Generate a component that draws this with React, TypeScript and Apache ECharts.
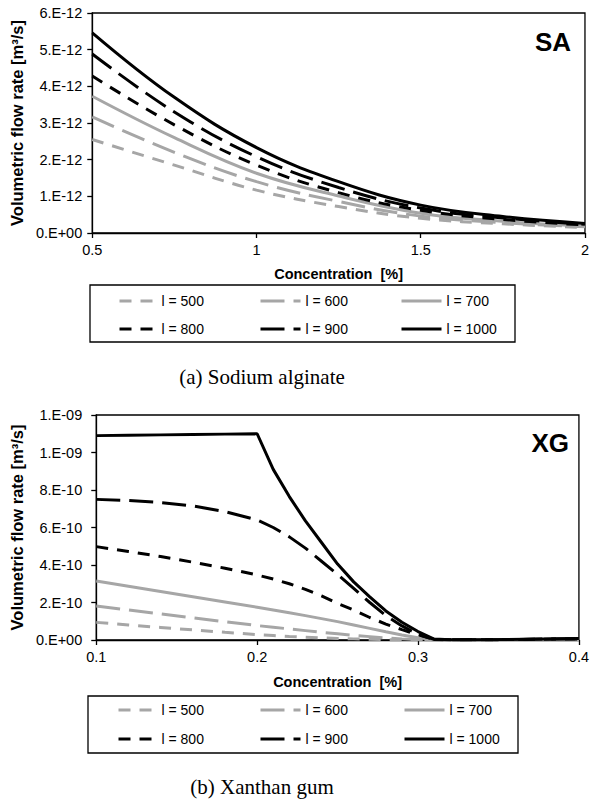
import React, { useEffect, useRef } from "react";
import * as echarts from "echarts";

// Sodium alginate: concentration [%] and flow rate in units of 1E-12 m³/s
const saConcentration = [0.5, 0.75, 1.0, 1.25, 1.5, 1.75, 2.0];
const saL500 = [2.55, 1.85, 1.17, 0.72, 0.4, 0.25, 0.15];
const saL600 = [3.17, 2.2, 1.4, 0.86, 0.46, 0.28, 0.17];
const saL700 = [3.73, 2.6, 1.63, 1.01, 0.54, 0.32, 0.19];
const saL800 = [4.28, 2.95, 1.85, 1.1, 0.62, 0.37, 0.22];
const saL900 = [4.88, 3.3, 2.08, 1.24, 0.68, 0.41, 0.24];
const saL1000 = [5.46, 3.7, 2.33, 1.4, 0.76, 0.45, 0.26];

// Xanthan gum: concentration [%] and flow rate in units of 1E-10 m³/s
const xgConcentration = [
  0.1, 0.12, 0.14, 0.16, 0.18, 0.2, 0.21, 0.22, 0.23, 0.24, 0.25, 0.26, 0.27,
  0.28, 0.29, 0.3, 0.31, 0.32, 0.35, 0.4,
];
const xgL500 = [
  0.94, 0.8, 0.67, 0.54, 0.41, 0.29, 0.24, 0.19, 0.15, 0.11, 0.08, 0.06, 0.04,
  0.02, 0.01, 0.01, 0, 0, 0.01, 0.02,
];
const xgL600 = [
  1.81, 1.6, 1.39, 1.18, 0.97, 0.77, 0.68, 0.59, 0.5, 0.41, 0.33, 0.25, 0.18,
  0.11, 0.06, 0.02, 0, 0, 0.01, 0.02,
];
const xgL700 = [
  3.15, 2.87, 2.59, 2.31, 2.03, 1.75, 1.6, 1.45, 1.3, 1.14, 0.98, 0.8, 0.62,
  0.44, 0.27, 0.12, 0.02, 0, 0.01, 0.03,
];
const xgL800 = [
  4.98, 4.72, 4.45, 4.15, 3.83, 3.47, 3.25, 3.0, 2.7, 2.35, 1.95, 1.6, 1.2,
  0.85, 0.55, 0.28, 0.03, 0.01, 0.02, 0.06,
];
const xgL900 = [
  7.5, 7.44, 7.33, 7.15, 6.85, 6.4, 6.0, 5.5, 4.9, 4.2, 3.5, 2.75, 2.0, 1.3,
  0.75, 0.3, 0.03, 0.01, 0.02, 0.07,
];
const xgL1000 = [
  10.9, 10.92, 10.94, 10.96, 10.98, 11.0, 9.1, 7.65, 6.35, 5.2, 4.05, 3.1, 2.3,
  1.55, 0.95, 0.45, 0.05, 0.01, 0.02, 0.08,
];

const lengthLabels = ["l = 500", "l = 600", "l = 700", "l = 800", "l = 900", "l = 1000"];

const GREY = "#a6a6a6";
const BLACK = "#000000";
const SHORT_DASH = [12, 9];
const LONG_DASH = [24, 9];
const SANS = "'Liberation Sans', Arial, sans-serif";
const SERIF = "'Liberation Serif', 'Times New Roman', serif";

const lineLooks = [
  { color: GREY, type: SHORT_DASH },
  { color: GREY, type: LONG_DASH },
  { color: GREY, type: "solid" },
  { color: BLACK, type: SHORT_DASH },
  { color: BLACK, type: LONG_DASH },
  { color: BLACK, type: "solid" },
];

// Excel-style "0.E+00" tick labels
const sciLabel = (scale: number) => (v: number) => {
  const real = v * scale;
  if (Math.abs(real) < 1e-30) return "0.E+00";
  let exp = Math.floor(Math.log10(Math.abs(real)));
  let mant = Math.round(real / Math.pow(10, exp));
  if (mant >= 10) {
    mant = 1;
    exp += 1;
  }
  const sign = exp < 0 ? "-" : "+";
  return `${mant}.E${sign}${String(Math.abs(exp)).padStart(2, "0")}`;
};

const buildSeries = (
  xs: number[],
  sets: number[][],
  axisIndex: number,
  smooth: boolean
) =>
  sets.map((vals, i) => ({
    name: lengthLabels[i],
    type: "line",
    xAxisIndex: axisIndex,
    yAxisIndex: axisIndex,
    data: xs.map((x, j) => [x, vals[j]]),
    symbol: "none",
    showSymbol: false,
    smooth: smooth ? 0.4 : false,
    lineStyle: {
      color: lineLooks[i].color,
      width: 3,
      type: lineLooks[i].type,
      cap: "butt",
    },
    itemStyle: { color: lineLooks[i].color },
    z: 2 + i,
  }));

const axisCommon = {
  type: "value",
  splitLine: { show: false },
  axisLine: { show: true, lineStyle: { color: "#000", width: 1.3 } },
  axisTick: { show: true, inside: false, length: 5, lineStyle: { color: "#000", width: 1.3 } },
};

const legendColumns = (top: number, gap: number, lefts: number[], widths: number[]) =>
  [
    [lengthLabels[0], lengthLabels[3]],
    [lengthLabels[1], lengthLabels[4]],
    [lengthLabels[2], lengthLabels[5]],
  ].map((names, c) => ({
    data: names,
    orient: "vertical",
    left: lefts[c],
    top,
    padding: 0,
    itemGap: gap,
    itemWidth: widths[c],
    itemHeight: 14,
    selectedMode: false,
    lineStyle: { width: 3 },
    itemStyle: { color: "rgba(0,0,0,0)", borderWidth: 0, opacity: 0 },
    textStyle: { fontFamily: SANS, fontSize: 14, color: "#000", padding: [0, 0, 0, 0] },
  }));

export default function App() {
  const ref = useRef<HTMLDivElement>(null);

  useEffect(() => {
    if (!ref.current) return;
    const chart = echarts.init(ref.current, null, { renderer: "svg" });

    const option = {
      animation: false,
      backgroundColor: "#ffffff",
      grid: [
        { left: 91, top: 13, width: 495, height: 220, show: true, borderColor: "#000", borderWidth: 1.3 },
        { left: 90, top: 415, width: 494, height: 225, show: true, borderColor: "#000", borderWidth: 1.3 },
      ],
      xAxis: [
        {
          ...axisCommon,
          gridIndex: 0,
          min: 0.5,
          max: 2,
          interval: 0.5,
          name: "Concentration  [%]",
          nameLocation: "middle",
          nameGap: 33,
          nameTextStyle: { fontFamily: SANS, fontSize: 14.5, fontWeight: "bold", color: "#000" },
          axisLabel: { fontFamily: SANS, fontSize: 14.5, color: "#000", margin: 9 },
        },
        {
          ...axisCommon,
          gridIndex: 1,
          min: 0.1,
          max: 0.4,
          interval: 0.1,
          name: "Concentration  [%]",
          nameLocation: "middle",
          nameGap: 34,
          nameTextStyle: { fontFamily: SANS, fontSize: 14.5, fontWeight: "bold", color: "#000" },
          axisLabel: { fontFamily: SANS, fontSize: 14.5, color: "#000", margin: 9 },
        },
      ],
      yAxis: [
        {
          ...axisCommon,
          gridIndex: 0,
          min: 0,
          max: 6,
          interval: 1,
          name: "Volumetric flow rate [m³/s]",
          nameLocation: "middle",
          nameGap: 64,
          nameTextStyle: { fontFamily: SANS, fontSize: 16.5, fontWeight: "bold", color: "#000" },
          axisLabel: { fontFamily: SANS, fontSize: 14.5, color: "#000", margin: 10, formatter: sciLabel(1e-12) },
        },
        {
          ...axisCommon,
          gridIndex: 1,
          min: 0,
          max: 12,
          interval: 2,
          name: "Volumetric flow rate [m³/s]",
          nameLocation: "middle",
          nameGap: 68,
          nameTextStyle: { fontFamily: SANS, fontSize: 16.5, fontWeight: "bold", color: "#000" },
          axisLabel: { fontFamily: SANS, fontSize: 14.5, color: "#000", margin: 14, formatter: sciLabel(1e-10) },
        },
      ],
      legend: [
        ...legendColumns(294, 14, [118, 259, 400], [37, 40, 40]),
        ...legendColumns(703, 15, [117, 259, 403], [38, 40, 40]),
      ],
      graphic: [
        {
          type: "rect",
          shape: { x: 90, y: 285, width: 425, height: 57 },
          style: { fill: "none", stroke: "#000", lineWidth: 1.3 },
          z: 0,
        },
        {
          type: "rect",
          shape: { x: 88, y: 696, width: 430, height: 57 },
          style: { fill: "none", stroke: "#000", lineWidth: 1.3 },
          z: 0,
        },
        {
          type: "text",
          x: 571,
          y: 42,
          style: {
            text: "SA",
            align: "right",
            verticalAlign: "middle",
            fontFamily: SANS,
            fontSize: 26,
            fontWeight: "bold",
            fill: "#000",
          },
        },
        {
          type: "text",
          x: 569,
          y: 443,
          style: {
            text: "XG",
            align: "right",
            verticalAlign: "middle",
            fontFamily: SANS,
            fontSize: 26,
            fontWeight: "bold",
            fill: "#000",
          },
        },
        {
          type: "text",
          x: 262,
          y: 377,
          style: {
            text: "(a) Sodium alginate",
            align: "center",
            verticalAlign: "middle",
            fontFamily: SERIF,
            fontSize: 21,
            fill: "#000",
          },
        },
        {
          type: "text",
          x: 262,
          y: 787,
          style: {
            text: "(b) Xanthan gum",
            align: "center",
            verticalAlign: "middle",
            fontFamily: SERIF,
            fontSize: 21,
            fill: "#000",
          },
        },
      ],
      series: [
        ...buildSeries(saConcentration, [saL500, saL600, saL700, saL800, saL900, saL1000], 0, true),
        ...buildSeries(xgConcentration, [xgL500, xgL600, xgL700, xgL800, xgL900, xgL1000], 1, false),
      ],
    };

    chart.setOption(option as any);
    return () => chart.dispose();
  }, []);

  return (
    <div
      ref={ref}
      style={{ position: "absolute", left: 0, top: 0, width: 592, height: 807 }}
    />
  );
}
